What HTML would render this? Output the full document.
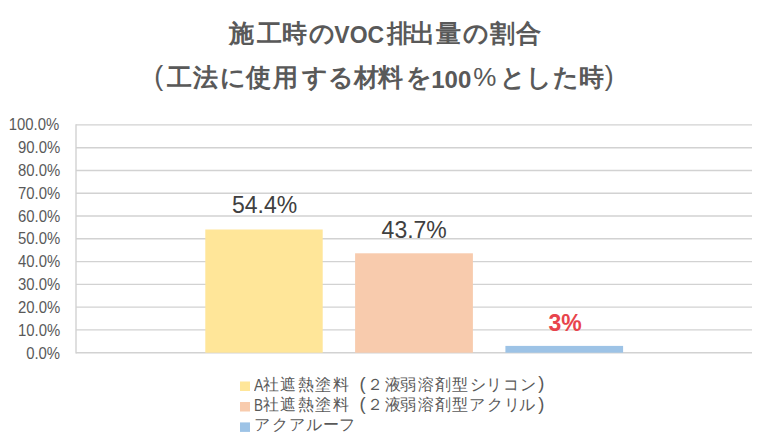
<!DOCTYPE html>
<html><head><meta charset="utf-8">
<style>
html,body{margin:0;padding:0;background:#fff;}
body{width:760px;height:438px;position:relative;overflow:hidden;font-family:"Liberation Sans",sans-serif;color:#595959;}
.t{position:absolute;white-space:nowrap;line-height:1;}
.g{position:absolute;white-space:nowrap;line-height:1;}
.yl{font-size:16.3px;right:700.3px;text-align:right;transform:scaleX(0.915);transform-origin:100% 50%;}
.dl{color:#404040;font-size:23px;}
</style></head><body>
<svg width="760" height="438" style="position:absolute;left:0;top:0">
<g stroke="#d2d2d2" stroke-width="1.4">
<line x1="76" y1="124.90" x2="752" y2="124.90"/>
<line x1="76" y1="147.68" x2="752" y2="147.68"/>
<line x1="76" y1="170.46" x2="752" y2="170.46"/>
<line x1="76" y1="193.24" x2="752" y2="193.24"/>
<line x1="76" y1="216.02" x2="752" y2="216.02"/>
<line x1="76" y1="238.80" x2="752" y2="238.80"/>
<line x1="76" y1="261.58" x2="752" y2="261.58"/>
<line x1="76" y1="284.36" x2="752" y2="284.36"/>
<line x1="76" y1="307.14" x2="752" y2="307.14"/>
<line x1="76" y1="329.92" x2="752" y2="329.92"/>
<line x1="76" y1="352.70" x2="752" y2="352.70"/>
<line x1="76" y1="124.20" x2="76" y2="353.40"/>
</g>
<rect x="205.3" y="229.5" width="117.4" height="123.20" fill="#ffe699"/>
<rect x="355.1" y="253.3" width="117.8" height="99.40" fill="#f8cbad"/>
<rect x="505.4" y="345.9" width="117.7" height="6.80" fill="#9dc3e6"/>
<rect x="240" y="381.5" width="10" height="9.5" fill="#ffe699"/>
<rect x="240" y="402" width="10" height="9.5" fill="#f8cbad"/>
<rect x="240" y="422.4" width="10" height="9.5" fill="#9dc3e6"/>
</svg>
<div class="t yl" style="top:115.94px">100.0%</div>
<div class="t yl" style="top:138.83px">90.0%</div>
<div class="t yl" style="top:161.72px">80.0%</div>
<div class="t yl" style="top:184.61px">70.0%</div>
<div class="t yl" style="top:207.50px">60.0%</div>
<div class="t yl" style="top:230.39px">50.0%</div>
<div class="t yl" style="top:253.28px">40.0%</div>
<div class="t yl" style="top:276.17px">30.0%</div>
<div class="t yl" style="top:299.06px">20.0%</div>
<div class="t yl" style="top:321.95px">10.0%</div>
<div class="t yl" style="top:344.84px">0.0%</div>
<div class="t dl" style="left:232px;top:194px">54.4%</div>
<div class="t dl" style="left:381.6px;top:218.5px">43.7%</div>
<div class="t" style="left:548.4px;top:312.2px;color:#e8444c;font-weight:bold;font-size:23px">3%</div>
<span class="g" style="left:228.90px;top:20.95px;font-size:25px;font-weight:bold;">施</span>
<span class="g" style="left:256.60px;top:20.95px;font-size:25px;font-weight:bold;">工</span>
<span class="g" style="left:282.40px;top:20.95px;font-size:25px;font-weight:bold;">時</span>
<span class="g" style="left:309.30px;top:20.95px;font-size:25px;font-weight:bold;">の</span>
<span class="g" style="left:334.30px;top:23.90px;font-size:23px;font-weight:bold;">VOC</span>
<span class="g" style="left:386.70px;top:20.95px;font-size:25px;font-weight:bold;">排</span>
<span class="g" style="left:410.00px;top:20.95px;font-size:25px;font-weight:bold;">出</span>
<span class="g" style="left:436.40px;top:20.95px;font-size:25px;font-weight:bold;">量</span>
<span class="g" style="left:462.60px;top:20.95px;font-size:25px;font-weight:bold;">の</span>
<span class="g" style="left:489.70px;top:20.95px;font-size:25px;font-weight:bold;">割</span>
<span class="g" style="left:516.20px;top:20.95px;font-size:25px;font-weight:bold;">合</span>
<span class="g" style="left:154.30px;top:63.20px;font-size:26.8px;">(</span>
<span class="g" style="left:167.00px;top:65.30px;font-size:25px;font-weight:bold;">工</span>
<span class="g" style="left:193.40px;top:65.30px;font-size:25px;font-weight:bold;">法</span>
<span class="g" style="left:219.60px;top:65.30px;font-size:25px;font-weight:bold;">に</span>
<span class="g" style="left:246.30px;top:65.30px;font-size:25px;font-weight:bold;">使</span>
<span class="g" style="left:273.30px;top:65.30px;font-size:25px;font-weight:bold;">用</span>
<span class="g" style="left:301.50px;top:65.30px;font-size:25px;font-weight:bold;">す</span>
<span class="g" style="left:327.50px;top:65.30px;font-size:25px;font-weight:bold;">る</span>
<span class="g" style="left:353.60px;top:65.30px;font-size:25px;font-weight:bold;">材</span>
<span class="g" style="left:378.20px;top:65.30px;font-size:25px;font-weight:bold;">料</span>
<span class="g" style="left:406.30px;top:65.30px;font-size:25px;font-weight:bold;">を</span>
<span class="g" style="left:431.20px;top:67.70px;font-size:24px;font-weight:bold;">100</span>
<span class="g" style="left:473.30px;top:63.90px;font-size:26px;">%</span>
<span class="g" style="left:499.60px;top:65.30px;font-size:25px;font-weight:bold;">と</span>
<span class="g" style="left:526.00px;top:65.30px;font-size:25px;font-weight:bold;">し</span>
<span class="g" style="left:553.00px;top:65.30px;font-size:25px;font-weight:bold;">た</span>
<span class="g" style="left:579.10px;top:65.30px;font-size:25px;font-weight:bold;">時</span>
<span class="g" style="left:604.80px;top:63.20px;font-size:26.8px;">)</span>
<span class="g" style="left:254.30px;top:377.60px;font-size:16.9px;transform:scaleX(0.84);transform-origin:0 50%;">A</span>
<span class="g" style="left:262.50px;top:376.50px;font-size:16px;">社</span>
<span class="g" style="left:279.80px;top:376.50px;font-size:16px;">遮</span>
<span class="g" style="left:297.90px;top:376.50px;font-size:16px;">熱</span>
<span class="g" style="left:315.30px;top:376.50px;font-size:16px;">塗</span>
<span class="g" style="left:332.70px;top:376.50px;font-size:16px;">料</span>
<span class="g" style="left:366.70px;top:376.50px;font-size:16px;">２</span>
<span class="g" style="left:384.50px;top:376.50px;font-size:16px;">液</span>
<span class="g" style="left:400.40px;top:376.50px;font-size:16px;">弱</span>
<span class="g" style="left:418.10px;top:376.50px;font-size:16px;">溶</span>
<span class="g" style="left:434.50px;top:376.50px;font-size:16px;">剤</span>
<span class="g" style="left:452.30px;top:376.50px;font-size:16px;">型</span>
<span class="g" style="left:359.60px;top:374.60px;font-size:18.4px;">(</span>
<span class="g" style="left:469.80px;top:376.50px;font-size:16px;">シ</span>
<span class="g" style="left:486.00px;top:376.50px;font-size:16px;">リ</span>
<span class="g" style="left:503.00px;top:376.50px;font-size:16px;">コ</span>
<span class="g" style="left:519.80px;top:376.50px;font-size:16px;">ン</span>
<span class="g" style="left:538.20px;top:374.40px;font-size:18.4px;">)</span>
<span class="g" style="left:254.00px;top:398.00px;font-size:16.9px;transform:scaleX(0.8);transform-origin:0 50%;">B</span>
<span class="g" style="left:262.50px;top:397.10px;font-size:16px;">社</span>
<span class="g" style="left:279.80px;top:397.10px;font-size:16px;">遮</span>
<span class="g" style="left:297.90px;top:397.10px;font-size:16px;">熱</span>
<span class="g" style="left:315.30px;top:397.10px;font-size:16px;">塗</span>
<span class="g" style="left:332.70px;top:397.10px;font-size:16px;">料</span>
<span class="g" style="left:366.70px;top:397.10px;font-size:16px;">２</span>
<span class="g" style="left:384.50px;top:397.10px;font-size:16px;">液</span>
<span class="g" style="left:400.40px;top:397.10px;font-size:16px;">弱</span>
<span class="g" style="left:418.10px;top:397.10px;font-size:16px;">溶</span>
<span class="g" style="left:434.50px;top:397.10px;font-size:16px;">剤</span>
<span class="g" style="left:452.30px;top:397.10px;font-size:16px;">型</span>
<span class="g" style="left:359.60px;top:395.10px;font-size:18.4px;">(</span>
<span class="g" style="left:469.10px;top:397.10px;font-size:16px;">ア</span>
<span class="g" style="left:486.50px;top:397.10px;font-size:16px;">ク</span>
<span class="g" style="left:504.40px;top:397.10px;font-size:16px;">リ</span>
<span class="g" style="left:519.40px;top:397.10px;font-size:16px;">ル</span>
<span class="g" style="left:538.20px;top:394.90px;font-size:18.4px;">)</span>
<span class="g" style="left:254.00px;top:417.00px;font-size:16px;">ア</span>
<span class="g" style="left:272.00px;top:417.00px;font-size:16px;">ク</span>
<span class="g" style="left:288.50px;top:417.00px;font-size:16px;">ア</span>
<span class="g" style="left:305.80px;top:417.00px;font-size:16px;">ル</span>
<span class="g" style="left:323.20px;top:417.00px;font-size:16px;">ー</span>
<span class="g" style="left:339.00px;top:417.00px;font-size:16px;">フ</span>
</body></html>
